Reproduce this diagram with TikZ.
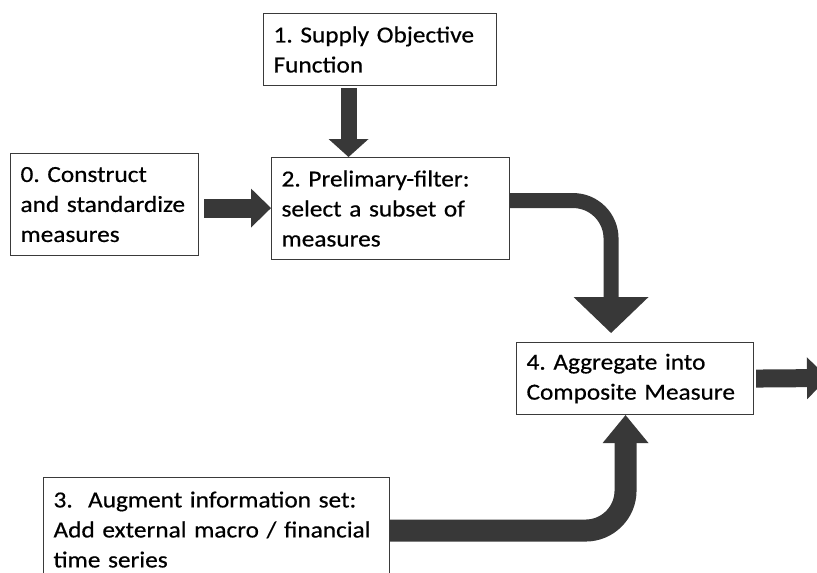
\documentclass[tikz,border=0pt]{standalone}
\usepackage{fontspec}
\setmainfont{Carlito}[FakeStretch=1.1, WordSpace=0.8, FakeBold=0.5]
\usetikzlibrary{arrows.meta,positioning,calc}
\definecolor{flowgrey}{HTML}{383838}
\definecolor{boxline}{HTML}{3A3A3A}

\begin{document}
\frenchspacing
\begin{tikzpicture}[
  x=1pt, y=-1pt,
  font=\fontsize{23}{30}\selectfont,
  stagebox/.style={draw=boxline, line width=1.1pt, anchor=north west,
    align=left, inner xsep=10pt, inner ysep=0pt},
  flow/.style={draw=flowgrey, line width=#1},
  head/.style={-{Triangle[#1, line width=0pt]}}
]
\useasboundingbox (0,0) rectangle (817,573);

\node[stagebox, text width=213pt, minimum height=72pt] (objective) at (263,13)
  {1. Supply Objective\\Function};
\node[stagebox, text width=168pt, minimum height=102pt] (construct) at (10,153)
  {0. Construct\\and standardize\\measures};
\node[stagebox, text width=218pt, minimum height=102pt] (prefilter) at (271,157)
  {2. Prelimary-filter:\\select a subset of\\measures};
\node[stagebox, text width=217pt, minimum height=72pt] (aggregate) at (516,342)
  {4. Aggregate into\\Composite Measure};
\node[stagebox, text width=326pt, minimum height=104pt] (augment) at (43,477)
  {3.\ \ Augment information set:\\Add external macro / financial\\time series};

% block arrows
\coordinate (objout) at ([xshift=-31.5pt, yshift=-2pt]objective.south);
\coordinate (constructout) at ([xshift=5pt, yshift=-3.5pt]construct.east);
\coordinate (filterout) at ([yshift=8pt]prefilter.east);
\coordinate (aggin) at ([xshift=-24pt, yshift=9pt]aggregate.north);
\coordinate (augout) at ([yshift=-1pt]augment.east);
\coordinate (aggup) at ([xshift=-9.5pt]aggregate.south);
\coordinate (result) at (828,378);

\draw[flow=16pt, head={width=40pt, length=18pt}] (objout) -- (objout |- prefilter.north);
\draw[flow=19pt, head={width=39pt, length=20pt}] (constructout) -- (constructout -| prefilter.west);
\draw[flow=15pt, rounded corners=38pt, head={width=75pt, length=36pt}] (filterout) -| (aggin);
\draw[flow=22pt, rounded corners=40pt, head={width=46pt, length=28pt}] (augout) -| (aggup);
\draw[flow=18pt, head={width=42pt, length=21pt}] ([xshift=2pt]aggregate.east) -- (result);
\end{tikzpicture}
\end{document}
